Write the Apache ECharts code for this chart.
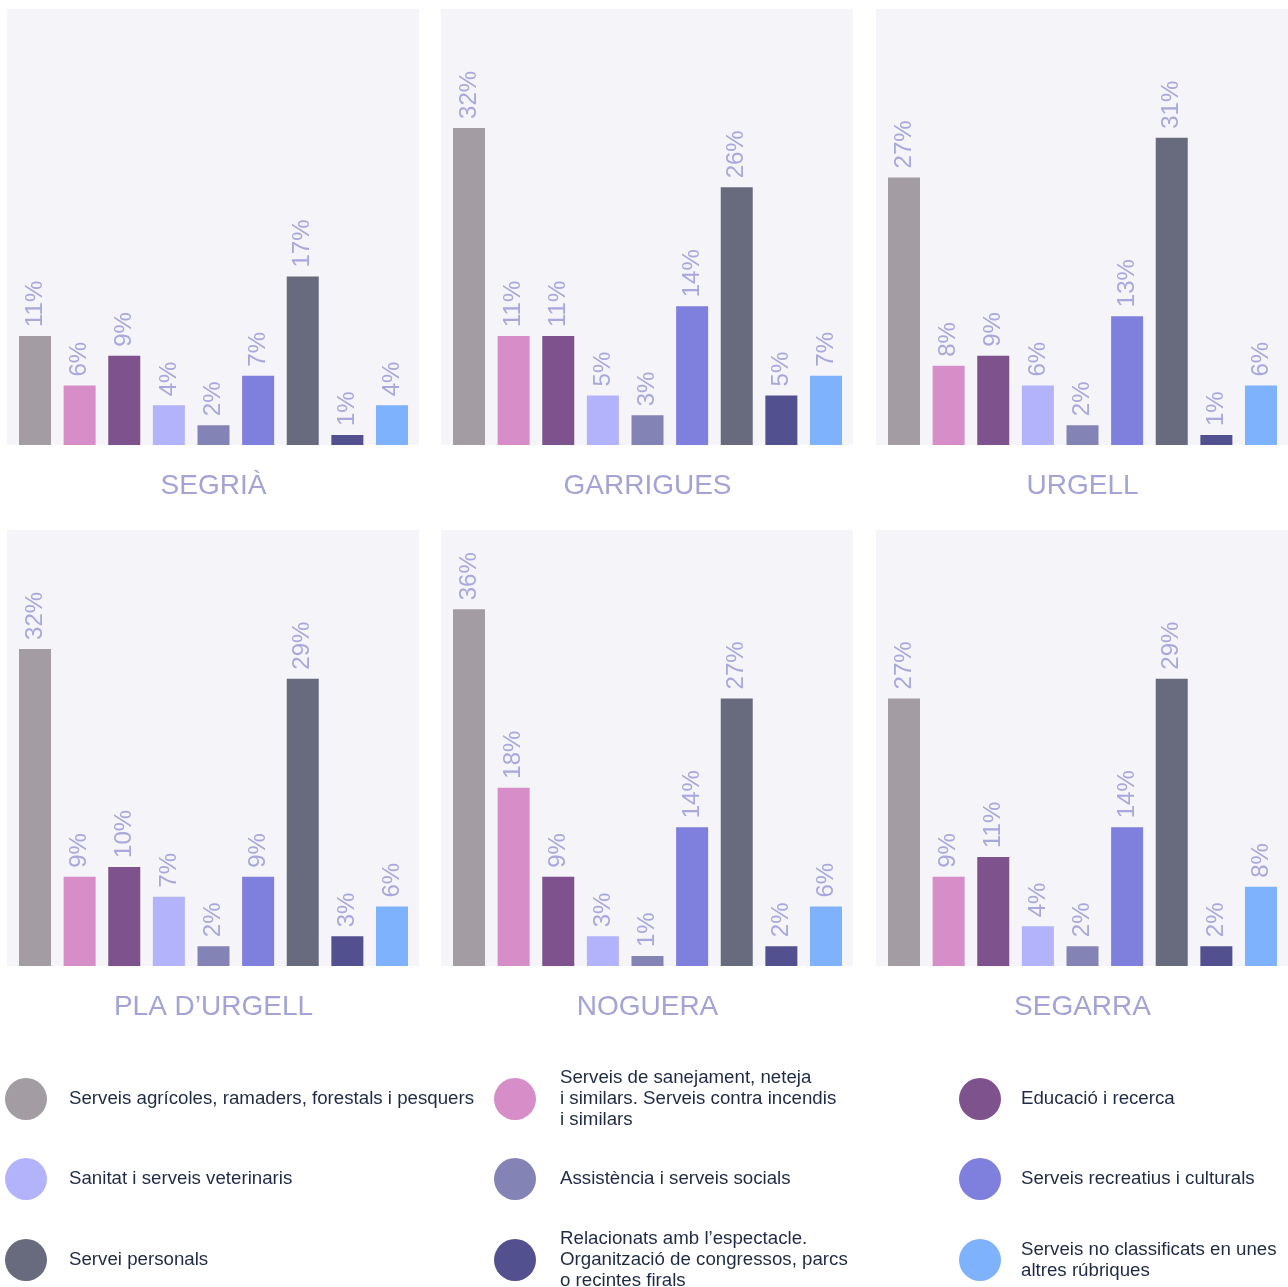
<!DOCTYPE html>
<html>
<head>
<meta charset="utf-8">
<script src="https://cdn.jsdelivr.net/npm/echarts@6/dist/echarts.min.js"></script>
<style>
  html, body { margin: 0; padding: 0; background: #ffffff; }
  #chart { width: 1288px; height: 1287px; }
</style>
</head>
<body>
<div id="chart"></div>
<script>
// Service categories (one bar each per comarca)
const categories = [
  'Serveis agrícoles, ramaders, forestals i pesquers',
  'Serveis de sanejament, neteja i similars. Serveis contra incendis i similars',
  'Educació i recerca',
  'Sanitat i serveis veterinaris',
  'Assistència i serveis socials',
  'Serveis recreatius i culturals',
  'Servei personals',
  'Relacionats amb l’espectacle. Organització de congressos, parcs o recintes firals',
  'Serveis no classificats en unes altres rúbriques'
];

// Wrapped legend text, same order as categories
const legendLabels = [
  'Serveis agrícoles, ramaders, forestals i pesquers',
  'Serveis de sanejament, neteja\ni similars. Serveis contra incendis\ni similars',
  'Educació i recerca',
  'Sanitat i serveis veterinaris',
  'Assistència i serveis socials',
  'Serveis recreatius i culturals',
  'Servei personals',
  'Relacionats amb l’espectacle.\nOrganització de congressos, parcs\no recintes firals',
  'Serveis no classificats en unes\naltres rúbriques'
];

const categoryColors = [
  '#a39ca3', '#d68dc8', '#7e528c',
  '#b3b3fc', '#8383b6', '#7f7fdd',
  '#686a7e', '#52508f', '#7fb2fd'
];

const comarques = ['SEGRIÀ', 'GARRIGUES', 'URGELL', 'PLA D’URGELL', 'NOGUERA', 'SEGARRA'];

// Share of each category (%) per comarca
const segria     = [11, 6, 9, 4, 2, 7, 17, 1, 4];
const garrigues  = [32, 11, 11, 5, 3, 14, 26, 5, 7];
const urgell     = [27, 8, 9, 6, 2, 13, 31, 1, 6];
const plaUrgell  = [32, 9, 10, 7, 2, 9, 29, 3, 6];
const noguera    = [36, 18, 9, 3, 1, 14, 27, 2, 6];
const segarra    = [27, 9, 11, 4, 2, 14, 29, 2, 8];

const panelValues = [segria, garrigues, urgell, plaUrgell, noguera, segarra];

// ---- layout ----
const panelLefts = [7, 441, 876];
const panelTops = [9, 530];
const panelW = 412, panelH = 436;
const panelBg = '#f4f4f9';
const labelColor = '#a8a8dc';
const titleColor = '#a3a3d5';
const fontFamily = "'Liberation Sans', Arial, Helvetica, sans-serif";

const grids = [], xAxes = [], yAxes = [], series = [], graphics = [];

panelValues.forEach((vals, g) => {
  const left = panelLefts[g % 3];
  const top = panelTops[Math.floor(g / 3)];

  graphics.push({
    type: 'rect', silent: true, z: -10,
    shape: { x: left, y: top, width: panelW, height: panelH },
    style: { fill: panelBg }
  });

  grids.push({ left: left + 5.7, top: top, width: 401.6, height: panelH, containLabel: false });

  xAxes.push({
    type: 'category', gridIndex: g, data: categories,
    axisLine: { show: false }, axisTick: { show: false }, axisLabel: { show: false },
    splitLine: { show: false },
    name: comarques[g], nameLocation: 'middle', nameGap: 27,
    nameTextStyle: { fontSize: 28, color: titleColor, fontFamily: fontFamily, letterSpacing: 1.2 }
  });
  yAxes.push({ type: 'value', gridIndex: g, min: 0, max: 44, show: false });

  categories.forEach((cat, c) => {
    series.push({
      type: 'bar', name: cat, xAxisIndex: g, yAxisIndex: g,
      barWidth: 32, barGap: '-100%',
      data: vals.map((v, i) => (i === c ? v : '-')),
      itemStyle: { color: categoryColors[c] },
      label: {
        show: true, position: 'top', rotate: 90, align: 'left', verticalAlign: 'middle',
        distance: 9, formatter: '{c}%',
        fontSize: 24, color: labelColor, fontFamily: fontFamily
      },
      emphasis: { disabled: true }
    });
  });
});

// Legend: 3 x 3 arrangement, one legend component per item
const legendCols = [5, 494, 959];
const legendTextPad = [17, 19, 15];
const legendRowsY = [1099, 1179, 1260];
const lineH = 21;
const legends = categories.map((cat, c) => {
  const col = c % 3, row = Math.floor(c / 3);
  const lines = legendLabels[c].split('\n').length;
  const h = Math.max(42, lines * lineH);
  return {
    data: [cat], orient: 'vertical', selectedMode: false,
    left: legendCols[col], top: legendRowsY[row] - h / 2, padding: 0,
    icon: 'circle', itemWidth: 42, itemHeight: 42,
    formatter: () => legendLabels[c],
    textStyle: {
      fontSize: 18.7, lineHeight: lineH, color: '#1f2a44', fontFamily: fontFamily,
      padding: [0, 0, 0, legendTextPad[col]]
    }
  };
});

const chart = echarts.init(document.getElementById('chart'), null, { renderer: 'canvas' });
chart.setOption({
  backgroundColor: '#ffffff',
  animation: false,
  graphic: graphics,
  grid: grids,
  xAxis: xAxes,
  yAxis: yAxes,
  legend: legends,
  series: series
});
</script>
</body>
</html>
